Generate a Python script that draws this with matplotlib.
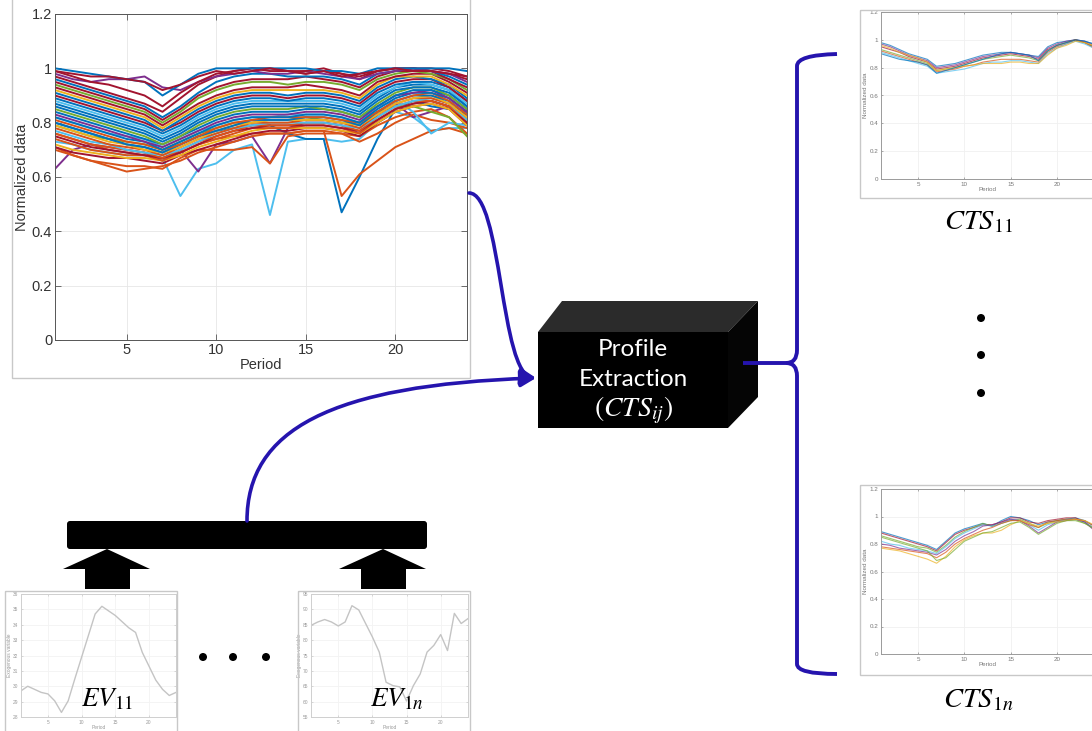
import matplotlib
matplotlib.use("Agg")
import matplotlib.pyplot as plt
from matplotlib.patches import Polygon, Rectangle, FancyBboxPatch, FancyArrowPatch, PathPatch, Circle
from matplotlib.path import Path

plt.rcParams['mathtext.fontset'] = 'stix'
plt.rcParams['font.family'] = ['Liberation Sans', 'DejaVu Sans']

# ---------------- data ----------------
periods = list(range(1, 25))

main_m01 = [1.00,0.99,0.98,0.97,0.96,0.95,0.90,0.94,0.98,1.00,1.00,1.00,1.00,1.00,1.00,0.99,0.99,0.98,1.00,1.00,1.00,1.00,1.00,0.99]
main_m02 = [0.99,0.97,0.95,0.94,0.92,0.90,0.86,0.91,0.95,0.98,0.99,1.00,1.00,0.99,0.99,1.00,0.98,0.97,0.99,1.00,1.00,1.00,0.99,0.97]
main_m03 = [0.98,0.96,0.95,0.96,0.96,0.97,0.93,0.92,0.95,0.97,0.98,0.99,0.98,0.98,0.99,0.98,0.97,0.96,0.98,0.99,1.00,0.99,0.98,0.95]
main_m04 = [0.97,0.95,0.93,0.91,0.89,0.87,0.84,0.89,0.94,0.97,0.99,1.00,0.99,0.99,0.98,0.99,0.98,0.96,0.99,1.00,1.00,0.99,0.98,0.96]
main_m05 = [0.96,0.94,0.92,0.90,0.88,0.86,0.82,0.86,0.91,0.95,0.97,0.98,0.98,0.97,0.97,0.97,0.96,0.94,0.98,0.99,1.00,0.99,0.97,0.94]
main_m06 = [0.95,0.93,0.91,0.89,0.87,0.85,0.81,0.85,0.90,0.93,0.95,0.96,0.96,0.96,0.97,0.96,0.95,0.93,0.97,0.99,0.99,0.99,0.96,0.93]
main_m07 = [0.94,0.92,0.90,0.88,0.86,0.84,0.80,0.84,0.89,0.92,0.94,0.95,0.95,0.94,0.95,0.95,0.94,0.92,0.96,0.98,0.99,0.98,0.96,0.92]
main_m08 = [0.93,0.91,0.89,0.87,0.85,0.83,0.79,0.83,0.87,0.90,0.92,0.93,0.93,0.93,0.94,0.93,0.92,0.90,0.95,0.97,0.98,0.98,0.95,0.91]
main_m09 = [0.92,0.90,0.88,0.86,0.84,0.82,0.78,0.82,0.86,0.89,0.91,0.92,0.92,0.92,0.92,0.92,0.91,0.89,0.94,0.97,0.97,0.97,0.94,0.90]
main_m10 = [0.91,0.89,0.87,0.85,0.83,0.81,0.77,0.81,0.85,0.88,0.90,0.91,0.91,0.90,0.91,0.91,0.90,0.88,0.93,0.96,0.97,0.96,0.94,0.89]
main_m11 = [0.90,0.88,0.86,0.84,0.82,0.80,0.77,0.80,0.84,0.87,0.89,0.90,0.90,0.89,0.90,0.90,0.89,0.87,0.92,0.95,0.96,0.96,0.93,0.88]
main_m12 = [0.89,0.87,0.85,0.83,0.81,0.79,0.76,0.79,0.83,0.86,0.88,0.89,0.89,0.88,0.89,0.89,0.88,0.86,0.91,0.94,0.95,0.95,0.93,0.88]
main_m13 = [0.88,0.86,0.84,0.82,0.80,0.78,0.75,0.78,0.82,0.85,0.87,0.88,0.88,0.88,0.88,0.88,0.87,0.85,0.90,0.93,0.95,0.94,0.92,0.87]
main_m14 = [0.87,0.85,0.83,0.81,0.79,0.77,0.74,0.77,0.81,0.84,0.86,0.87,0.87,0.87,0.87,0.87,0.86,0.84,0.89,0.93,0.94,0.94,0.92,0.86]
main_m15 = [0.86,0.84,0.82,0.80,0.78,0.76,0.73,0.76,0.80,0.83,0.85,0.86,0.86,0.86,0.86,0.86,0.85,0.83,0.88,0.92,0.93,0.93,0.91,0.86]
main_m16 = [0.85,0.83,0.81,0.79,0.77,0.75,0.72,0.75,0.79,0.82,0.84,0.85,0.85,0.85,0.86,0.85,0.84,0.82,0.87,0.91,0.93,0.93,0.90,0.85]
main_m17 = [0.84,0.82,0.80,0.78,0.76,0.74,0.72,0.75,0.78,0.81,0.83,0.84,0.84,0.84,0.85,0.85,0.84,0.82,0.86,0.90,0.92,0.92,0.90,0.85]
main_m18 = [0.83,0.81,0.79,0.77,0.75,0.73,0.71,0.74,0.77,0.80,0.82,0.83,0.83,0.83,0.84,0.84,0.83,0.81,0.86,0.90,0.91,0.92,0.89,0.84]
main_m19 = [0.82,0.80,0.78,0.76,0.74,0.73,0.70,0.73,0.76,0.79,0.81,0.82,0.82,0.82,0.83,0.83,0.82,0.80,0.85,0.89,0.91,0.91,0.89,0.84]
main_m20 = [0.81,0.79,0.77,0.75,0.73,0.72,0.70,0.72,0.75,0.78,0.80,0.81,0.82,0.82,0.82,0.82,0.81,0.80,0.84,0.88,0.90,0.91,0.88,0.83]
main_m21 = [0.80,0.78,0.76,0.74,0.72,0.71,0.69,0.72,0.75,0.77,0.79,0.81,0.81,0.81,0.82,0.82,0.81,0.79,0.84,0.88,0.90,0.90,0.88,0.83]
main_m22 = [0.79,0.77,0.75,0.73,0.72,0.70,0.69,0.71,0.74,0.77,0.79,0.80,0.81,0.81,0.81,0.81,0.80,0.79,0.83,0.87,0.89,0.90,0.87,0.82]
main_m23 = [0.78,0.76,0.74,0.72,0.71,0.70,0.68,0.71,0.74,0.76,0.78,0.80,0.80,0.80,0.81,0.81,0.80,0.78,0.83,0.87,0.89,0.89,0.87,0.82]
main_m24 = [0.77,0.75,0.73,0.72,0.70,0.69,0.68,0.70,0.73,0.76,0.78,0.79,0.80,0.80,0.80,0.80,0.79,0.78,0.82,0.86,0.88,0.89,0.87,0.81]
main_m25 = [0.76,0.74,0.72,0.71,0.70,0.69,0.67,0.70,0.73,0.75,0.77,0.79,0.79,0.79,0.80,0.80,0.79,0.77,0.82,0.86,0.88,0.88,0.86,0.81]
main_m26 = [0.75,0.73,0.71,0.70,0.69,0.68,0.67,0.69,0.72,0.75,0.77,0.78,0.79,0.79,0.79,0.79,0.78,0.77,0.81,0.85,0.87,0.88,0.86,0.80]
main_m27 = [0.74,0.72,0.70,0.69,0.68,0.68,0.66,0.69,0.72,0.74,0.76,0.78,0.78,0.78,0.79,0.79,0.78,0.76,0.81,0.85,0.87,0.88,0.86,0.80]
main_m28 = [0.72,0.70,0.69,0.68,0.67,0.67,0.66,0.68,0.71,0.73,0.75,0.77,0.78,0.78,0.78,0.78,0.77,0.76,0.80,0.84,0.86,0.87,0.85,0.79]
main_m29 = [0.71,0.69,0.68,0.67,0.67,0.66,0.65,0.68,0.70,0.72,0.74,0.76,0.77,0.77,0.78,0.78,0.77,0.75,0.80,0.84,0.86,0.87,0.85,0.79]
main_o1 = [0.73,0.72,0.70,0.69,0.68,0.68,0.67,0.53,0.63,0.65,0.70,0.72,0.46,0.73,0.74,0.74,0.73,0.74,0.80,0.84,0.82,0.77,0.78,0.78]
main_o2 = [0.80,0.78,0.76,0.74,0.72,0.71,0.69,0.72,0.75,0.77,0.78,0.79,0.79,0.76,0.74,0.74,0.47,0.60,0.74,0.85,0.88,0.86,0.85,0.83]
main_o3 = [0.76,0.74,0.72,0.70,0.69,0.68,0.67,0.69,0.72,0.74,0.75,0.76,0.76,0.76,0.77,0.77,0.53,0.61,0.66,0.71,0.74,0.77,0.78,0.76]
main_o4 = [0.63,0.70,0.72,0.71,0.70,0.69,0.66,0.70,0.62,0.72,0.73,0.75,0.65,0.78,0.80,0.80,0.79,0.76,0.83,0.87,0.82,0.84,0.86,0.84]
main_o5 = [0.70,0.68,0.66,0.65,0.64,0.64,0.63,0.67,0.70,0.70,0.70,0.71,0.65,0.75,0.76,0.76,0.76,0.73,0.76,0.80,0.83,0.81,0.80,0.78]
main_o6 = [0.71,0.68,0.66,0.64,0.62,0.63,0.64,0.66,0.69,0.71,0.73,0.75,0.76,0.76,0.77,0.77,0.76,0.75,0.79,0.82,0.84,0.85,0.82,0.76]
main_o7 = [0.99,0.98,0.97,0.97,0.96,0.95,0.92,0.94,0.97,0.99,0.98,0.99,1.00,0.99,0.98,0.99,0.97,0.98,0.99,1.00,0.99,0.99,0.98,0.97]
main_o8 = [0.82,0.80,0.78,0.76,0.75,0.74,0.71,0.74,0.77,0.79,0.81,0.82,0.82,0.83,0.83,0.83,0.82,0.80,0.86,0.88,0.84,0.76,0.80,0.79]
main_o9 = [0.79,0.77,0.75,0.74,0.73,0.72,0.70,0.73,0.76,0.78,0.80,0.80,0.81,0.81,0.82,0.81,0.80,0.80,0.84,0.86,0.86,0.84,0.82,0.75]

main_lines = [main_o1, main_o2, main_o3, main_o4, main_o5, main_o6, main_o8, main_o9,
              main_m29, main_m28, main_m27, main_m26, main_m25, main_m24, main_m23, main_m22,
              main_m21, main_m20, main_m19, main_m18, main_m17, main_m16, main_m15, main_m14,
              main_m13, main_m12, main_m11, main_m10, main_m09, main_m08, main_m07, main_m06,
              main_m05, main_m04, main_m03, main_m02, main_m01, main_o7]

cts11_1 = [0.98,0.96,0.93,0.90,0.88,0.86,0.81,0.82,0.83,0.85,0.87,0.89,0.90,0.91,0.91,0.90,0.89,0.88,0.95,0.98,0.99,1.00,0.99,0.97]
cts11_2 = [0.97,0.95,0.92,0.89,0.87,0.85,0.80,0.81,0.82,0.84,0.86,0.88,0.89,0.90,0.91,0.90,0.89,0.87,0.94,0.97,0.99,1.00,0.99,0.96]
cts11_3 = [0.95,0.93,0.91,0.88,0.86,0.84,0.79,0.80,0.81,0.83,0.85,0.87,0.88,0.89,0.90,0.89,0.88,0.86,0.93,0.96,0.98,1.00,0.98,0.95]
cts11_4 = [0.93,0.91,0.89,0.87,0.85,0.83,0.78,0.79,0.80,0.82,0.84,0.86,0.87,0.88,0.89,0.88,0.87,0.85,0.92,0.96,0.98,1.00,0.98,0.95]
cts11_5 = [0.92,0.90,0.88,0.86,0.84,0.82,0.77,0.78,0.79,0.81,0.82,0.84,0.85,0.86,0.86,0.86,0.85,0.84,0.91,0.95,0.97,1.00,0.98,0.94]
cts11_6 = [0.91,0.89,0.87,0.85,0.83,0.81,0.76,0.77,0.78,0.79,0.81,0.83,0.84,0.84,0.85,0.85,0.84,0.83,0.90,0.94,0.97,0.99,0.97,0.94]
cts11_7 = [0.96,0.94,0.91,0.89,0.87,0.84,0.78,0.79,0.80,0.81,0.82,0.83,0.83,0.83,0.84,0.84,0.83,0.83,0.89,0.94,0.96,0.99,0.98,0.96]
cts11_8 = [0.90,0.88,0.86,0.85,0.84,0.82,0.76,0.78,0.80,0.82,0.84,0.86,0.88,0.90,0.91,0.90,0.89,0.85,0.92,0.96,0.98,1.00,0.99,0.97]
cts11_lines = [cts11_1, cts11_2, cts11_3, cts11_4, cts11_5, cts11_6, cts11_7, cts11_8]

cts1n_1 = [0.89,0.87,0.85,0.83,0.81,0.79,0.76,0.82,0.88,0.91,0.93,0.95,0.93,0.97,1.00,0.99,0.97,0.94,0.96,0.97,0.98,0.99,0.97,0.93]
cts1n_2 = [0.88,0.86,0.84,0.82,0.80,0.78,0.75,0.81,0.87,0.90,0.92,0.94,0.94,0.96,0.99,0.99,0.96,0.95,0.97,0.98,0.99,0.99,0.96,0.91]
cts1n_3 = [0.86,0.84,0.82,0.80,0.78,0.77,0.74,0.79,0.85,0.89,0.92,0.95,0.93,0.95,0.97,0.98,0.95,0.92,0.95,0.97,0.98,0.98,0.95,0.92]
cts1n_4 = [0.82,0.80,0.79,0.77,0.76,0.75,0.73,0.78,0.84,0.88,0.91,0.94,0.93,0.95,0.98,0.97,0.94,0.90,0.94,0.96,0.98,0.98,0.96,0.91]
cts1n_5 = [0.80,0.79,0.77,0.76,0.75,0.74,0.72,0.76,0.82,0.86,0.89,0.93,0.94,0.96,0.98,0.97,0.93,0.88,0.92,0.96,0.97,0.98,0.96,0.90]
cts1n_6 = [0.78,0.77,0.76,0.75,0.74,0.73,0.70,0.74,0.80,0.84,0.87,0.90,0.92,0.95,0.97,0.97,0.94,0.92,0.96,0.97,0.98,0.98,0.97,0.93]
cts1n_7 = [0.77,0.76,0.75,0.73,0.71,0.69,0.66,0.71,0.78,0.83,0.86,0.88,0.88,0.90,0.94,0.97,0.95,0.93,0.95,0.96,0.97,0.98,0.97,0.94]
cts1n_8 = [0.85,0.83,0.81,0.79,0.77,0.75,0.68,0.70,0.76,0.82,0.85,0.88,0.89,0.92,0.95,0.96,0.92,0.87,0.91,0.95,0.97,0.97,0.95,0.91]
cts1n_lines = [cts1n_1, cts1n_2, cts1n_3, cts1n_4, cts1n_5, cts1n_6, cts1n_7, cts1n_8]

ev11 = [29.7,30.0,29.8,29.6,29.5,29.05,28.3,29.05,30.5,31.9,33.3,34.7,35.2,34.9,34.6,34.2,33.8,33.5,32.2,31.3,30.4,29.8,29.4,29.6]
ev1n = [84.8,85.9,86.7,85.9,84.6,85.9,91.2,89.8,85.4,81.0,76.1,66.3,65.2,64.8,60.2,65.2,69.0,76.1,78.3,81.8,76.6,88.7,85.4,87.0]

norm_yticks = [0, 0.2, 0.4, 0.6, 0.8, 1.0, 1.2]
norm_yticklabels = ['0', '0.2', '0.4', '0.6', '0.8', '1', '1.2']
period_xticks = [5, 10, 15, 20]
ev11_yticks = [28, 29, 30, 31, 32, 33, 34, 35, 36]
ev1n_yticks = [55, 60, 65, 70, 75, 80, 85, 90, 95]

# ---------------- styles ----------------
W, H = 1092, 731
matlab = ['#0072BD', '#D95319', '#EDB120', '#7E2F8E', '#77AC30', '#4DBEEE', '#A2142F']
main_color_idx = [5, 0, 1, 3, 1, 1, 5, 4,
                  6, 2, 1, 6, 1, 5, 1, 2,
                  0, 1, 0, 3, 0, 4, 0, 0,
                  5, 0, 6, 0, 2, 6, 4, 6,
                  0, 6, 3, 6, 0, 6]
cts11_color_idx = [0, 3, 6, 4, 1, 5, 2, 0]
cts1n_color_idx = [0, 6, 4, 5, 3, 1, 2, 4]
BLUE = '#2514ae'

fig = plt.figure(figsize=(W / 100, H / 100), dpi=100)
fig.patch.set_facecolor('white')


def px_rect(x0, y0, x1, y1):
    return [x0 / W, 1 - y1 / H, (x1 - x0) / W, (y1 - y0) / H]


def style_axes(ax, labelsize, spine_col, tick_col, length, grid_col):
    ax.set_xlim(1, 24)
    ax.grid(True, color=grid_col, lw=0.6)
    ax.set_axisbelow(True)
    ax.tick_params(direction='in', top=True, right=True, length=length, width=0.6,
                   labelsize=labelsize, colors=spine_col, labelcolor=tick_col, pad=2)
    for s in ax.spines.values():
        s.set_color(spine_col)
        s.set_linewidth(0.7)


# main chart
ax = fig.add_axes(px_rect(55, 14, 467, 340))
for vals, ci in zip(main_lines, main_color_idx):
    ax.plot(periods, vals, color=matlab[ci], lw=1.4, solid_joinstyle='round')
ax.set_ylim(0, 1.2)
ax.set_xticks(period_xticks)
ax.set_yticks(norm_yticks)
ax.set_yticklabels(norm_yticklabels)
style_axes(ax, 10.5, '#555555', '#333333', 4, '#e6e6e6')
ax.set_xlabel('Period', fontsize=10.5, color='#333333', labelpad=1)
ax.set_ylabel('Normalized data', fontsize=10.5, color='#333333', labelpad=2)

# CTS charts
for (y0, y1), lines, cidx in [((12, 179), cts11_lines, cts11_color_idx),
                              ((489, 654), cts1n_lines, cts1n_color_idx)]:
    a = fig.add_axes(px_rect(881, y0, 1094, y1))
    for vals, ci in zip(lines, cidx):
        a.plot(periods, vals, color=matlab[ci], lw=0.8, alpha=0.7)
    a.set_ylim(0, 1.2)
    a.set_xticks(period_xticks)
    a.set_yticks(norm_yticks)
    a.set_yticklabels(norm_yticklabels)
    style_axes(a, 4.5, '#9a9a9a', '#777777', 1.5, '#f0f0f0')
    a.set_xlabel('Period', fontsize=4.5, color='#777777', labelpad=0.5)
    a.set_ylabel('Normalized data', fontsize=4.5, color='#777777', labelpad=1)

# EV charts
for (x0, x1), vals, yt in [((21, 176), ev11, ev11_yticks), ((311, 468), ev1n, ev1n_yticks)]:
    a = fig.add_axes(px_rect(x0, 594, x1, 717))
    a.plot(periods, vals, color='#c4c4c4', lw=1.0)
    a.set_ylim(yt[0], yt[-1])
    a.set_yticks(yt)
    a.set_xticks(period_xticks)
    style_axes(a, 3.5, '#cfcfcf', '#9a9a9a', 1.2, '#f3f3f3')
    a.set_xlabel('Period', fontsize=3.5, color='#9a9a9a', labelpad=0.5)
    a.set_ylabel('Exogenous variable', fontsize=3.5, color='#9a9a9a', labelpad=0.5)

# overlay for the diagram
ov = fig.add_axes([0, 0, 1, 1], zorder=10)
ov.set_xlim(0, W)
ov.set_ylim(H, 0)
ov.axis('off')

frame_kw = dict(fill=False, edgecolor='#c8c8c8', lw=1.0)
ov.add_patch(Rectangle((12, -2), 458, 380, **frame_kw))
ov.add_patch(Rectangle((860, 10), 250, 188, **frame_kw))
ov.add_patch(Rectangle((860, 485), 250, 190, **frame_kw))
ov.add_patch(Rectangle((5, 591), 172, 150, **frame_kw))
ov.add_patch(Rectangle((298, 591), 172, 150, **frame_kw))

# 3D box
ov.add_patch(Polygon([(538, 332), (562, 301), (758, 301), (728, 332)], closed=True,
                     facecolor='#2b2b2b', edgecolor='none'))
ov.add_patch(Polygon([(728, 332), (758, 301), (758, 397), (728, 428)], closed=True,
                     facecolor='#050505', edgecolor='none'))
ov.add_patch(Rectangle((538, 332), 190, 96, facecolor='black', edgecolor='none'))
ov.text(633, 349, 'Profile', color='white', fontsize=17.5, family=['Lato', 'DejaVu Sans'],
        ha='center', va='center')
ov.text(633, 380, 'Extraction', color='white', fontsize=17.5, family=['Lato', 'DejaVu Sans'],
        ha='center', va='center')
ov.text(633, 410, r'$(CTS_{ij})$', color='white', fontsize=20, ha='center', va='center')

# black bar and up arrows
ov.add_patch(FancyBboxPatch((67, 521), 360, 28, boxstyle='round,pad=0,rounding_size=3',
                            facecolor='black', edgecolor='none'))
for cx in (107, 383):
    ov.add_patch(Polygon([(cx, 549), (cx + 43, 569), (cx + 23, 569), (cx + 23, 589),
                          (cx - 22, 589), (cx - 22, 569), (cx - 44, 569)], closed=True,
                         facecolor='black', edgecolor='none'))

# curved arrows into the box
p1 = Path([(469, 193), (502, 193), (500, 375), (536, 378)],
          [Path.MOVETO, Path.CURVE4, Path.CURVE4, Path.CURVE4])
p2 = Path([(247, 521), (247, 430), (330, 385), (536, 378)],
          [Path.MOVETO, Path.CURVE4, Path.CURVE4, Path.CURVE4])
for p in (p1, p2):
    ov.add_patch(FancyArrowPatch(path=p, arrowstyle='-|>,head_length=9,head_width=5',
                                 color=BLUE, lw=2.6, mutation_scale=1))

# bracket
brace = Path([(837, 54), (797, 55), (797, 66), (797, 350), (797, 363), (786, 363),
              (797, 363), (797, 376), (797, 664), (797, 674), (837, 674)],
             [Path.MOVETO, Path.CURVE3, Path.CURVE3, Path.LINETO, Path.CURVE3, Path.CURVE3,
              Path.CURVE3, Path.CURVE3, Path.LINETO, Path.CURVE3, Path.CURVE3])
ov.add_patch(PathPatch(brace, fill=False, edgecolor=BLUE, lw=2.8, capstyle='butt'))
ov.plot([743, 788], [363, 363], color=BLUE, lw=2.8, solid_capstyle='butt')

# dots
for cy in (318, 355, 393):
    ov.add_patch(Circle((981, cy), 4, facecolor='black', edgecolor='none'))
for cx in (203, 233, 266):
    ov.add_patch(Circle((cx, 657), 4, facecolor='black', edgecolor='none'))

# labels
ov.text(978, 222, r'$CTS_{11}$', fontsize=20.5, ha='center', va='center', color='black')
ov.text(978, 700, r'$CTS_{1n}$', fontsize=20.5, ha='center', va='center', color='black')
ov.text(107, 699, r'$EV_{11}$', fontsize=19.5, ha='center', va='center', color='black')
ov.text(397, 699, r'$EV_{1n}$', fontsize=19.5, ha='center', va='center', color='black')

fig.savefig('out.png', dpi=100, facecolor='white')
